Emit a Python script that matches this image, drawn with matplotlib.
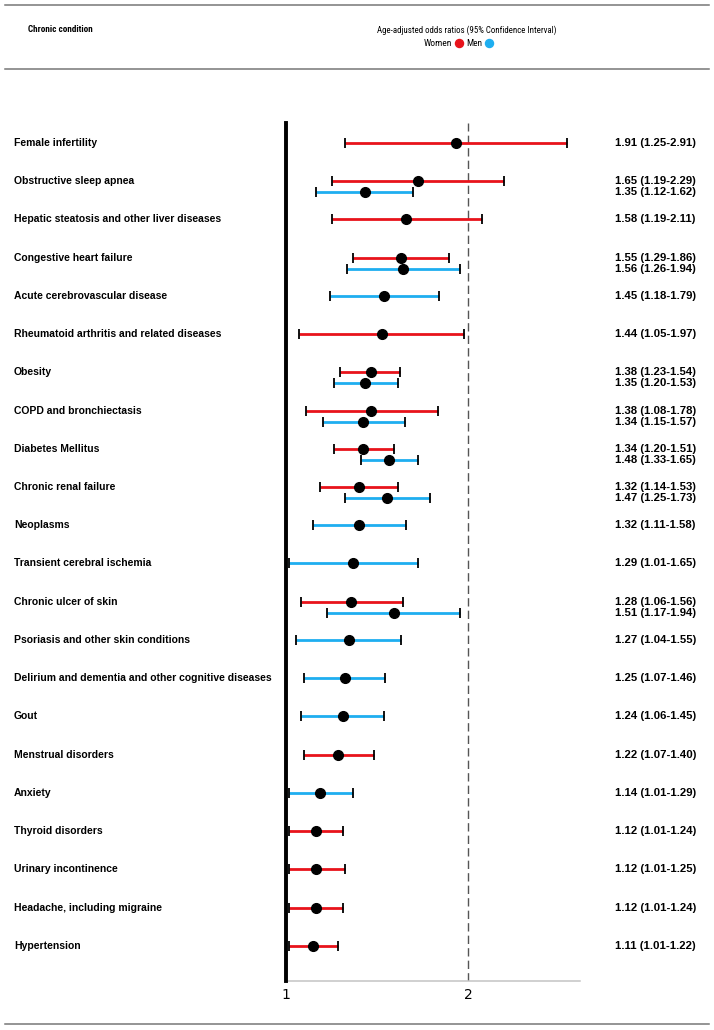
import numpy as np
import matplotlib
matplotlib.use("Agg")
import matplotlib.pyplot as plt
from matplotlib import font_manager
from matplotlib.lines import Line2D
from matplotlib.transforms import blended_transform_factory

nan = np.nan

conditions = [
    "Female infertility",
    "Obstructive sleep apnea",
    "Hepatic steatosis and other liver diseases",
    "Congestive heart failure",
    "Acute cerebrovascular disease",
    "Rheumatoid arthritis and related diseases",
    "Obesity",
    "COPD and bronchiectasis",
    "Diabetes Mellitus",
    "Chronic renal failure",
    "Neoplasms",
    "Transient cerebral ischemia",
    "Chronic ulcer of skin",
    "Psoriasis and other skin conditions",
    "Delirium and dementia and other cognitive diseases",
    "Gout",
    "Menstrual disorders",
    "Anxiety",
    "Thyroid disorders",
    "Urinary incontinence",
    "Headache, including migraine",
    "Hypertension",
]

women_or = [1.91, 1.65, 1.58, 1.55, nan, 1.44, 1.38, 1.38, 1.34, 1.32, nan, nan,
            1.28, nan, nan, nan, 1.22, nan, 1.12, 1.12, 1.12, 1.11]
women_lo = [1.25, 1.19, 1.19, 1.29, nan, 1.05, 1.23, 1.08, 1.20, 1.14, nan, nan,
            1.06, nan, nan, nan, 1.07, nan, 1.01, 1.01, 1.01, 1.01]
women_hi = [2.91, 2.29, 2.11, 1.86, nan, 1.97, 1.54, 1.78, 1.51, 1.53, nan, nan,
            1.56, nan, nan, nan, 1.40, nan, 1.24, 1.25, 1.24, 1.22]

men_or = [nan, 1.35, nan, 1.56, 1.45, nan, 1.35, 1.34, 1.48, 1.47, 1.32, 1.29,
          1.51, 1.27, 1.25, 1.24, nan, 1.14, nan, nan, nan, nan]
men_lo = [nan, 1.12, nan, 1.26, 1.18, nan, 1.20, 1.15, 1.33, 1.25, 1.11, 1.01,
          1.17, 1.04, 1.07, 1.06, nan, 1.01, nan, nan, nan, nan]
men_hi = [nan, 1.62, nan, 1.94, 1.79, nan, 1.53, 1.57, 1.65, 1.73, 1.58, 1.65,
          1.94, 1.55, 1.46, 1.45, nan, 1.29, nan, nan, nan, nan]

W, H = 714, 1030
red = "#e8131b"
blue = "#1eaef0"

# header font is a condensed one; use one if installed
names = {f.name for f in font_manager.fontManager.ttflist}
narrow = "Roboto"
for cand in ["Liberation Sans Narrow", "Roboto Condensed", "Open Sans Condensed"]:
    if cand in names:
        narrow = cand
        break

fig = plt.figure(figsize=(W / 100, H / 100), dpi=100)
ax = fig.add_axes([286 / W, 1 - 981 / H, (580 - 286) / W, (981 - 123) / H])

n = len(conditions)
rows = np.arange(n)
has_w = ~np.isnan(women_or)
y_w = rows.astype(float)
y_m = np.where(has_w, rows + 0.29, rows)


def draw(y, est, lo, hi, col):
    est, lo, hi = np.array(est), np.array(lo), np.array(hi)
    ok = ~np.isnan(est)
    ax.hlines(y[ok], lo[ok], hi[ok], color=col, lw=2.0, zorder=2)
    ax.plot(lo[ok], y[ok], ls="none", marker="|", ms=7.5, mew=1.3, color="black", zorder=3)
    ax.plot(hi[ok], y[ok], ls="none", marker="|", ms=7.5, mew=1.3, color="black", zorder=3)
    ax.plot(est[ok], y[ok], ls="none", marker="o", ms=7, color="black", zorder=4)


draw(y_w, women_or, women_lo, women_hi, red)
draw(y_m, men_or, men_lo, men_hi, blue)

ax.axvline(2, color="#555555", lw=1, ls=(0, (6, 3)), zorder=1)

ax.set_xscale("log")
ax.set_xlim(1, 3.06)
ax.set_ylim(n - 1 + 0.92, -0.52)
ax.set_xticks([1, 2])
ax.set_xticklabels(["1", "2"], fontsize=10, family="DejaVu Sans")
ax.xaxis.set_minor_locator(matplotlib.ticker.NullLocator())
ax.tick_params(axis="x", length=0, pad=5)
ax.set_yticks([])
for s in ["top", "right"]:
    ax.spines[s].set_visible(False)
ax.spines["left"].set_linewidth(2.8)
ax.spines["left"].set_color("black")
ax.spines["left"].set_zorder(5)
ax.spines["bottom"].set_color("#c4c4c4")
ax.spines["bottom"].set_linewidth(1.1)

tr = blended_transform_factory(fig.transFigure, ax.transData)
lab_font = dict(family="Liberation Sans", weight="bold", fontsize=7.5)
num_font = dict(family="Liberation Sans", weight="bold", fontsize=8.2)
for i, c in enumerate(conditions):
    ax.text(14 / W, i, c, transform=tr, ha="left", va="center", **lab_font)
    if has_w[i]:
        ax.text(615 / W, y_w[i], "%.2f (%.2f-%.2f)" % (women_or[i], women_lo[i], women_hi[i]),
                transform=tr, ha="left", va="center", **num_font)
    if not np.isnan(men_or[i]):
        ax.text(615 / W, y_m[i], "%.2f (%.2f-%.2f)" % (men_or[i], men_lo[i], men_hi[i]),
                transform=tr, ha="left", va="center", **num_font)

# header
for yy in [5, 69, 1024]:
    fig.add_artist(Line2D([5 / W, 709 / W], [1 - yy / H, 1 - yy / H], color="#777777", lw=1.1))

renderer = fig.canvas.get_renderer()


def fit(t, width_px):
    # shrink/grow the font so the text is as wide as in the reference
    w = t.get_window_extent(renderer).width
    t.set_fontsize(t.get_fontsize() * width_px / w)


t1 = fig.text(28 / W, 1 - 30 / H, "Chronic condition", ha="left", va="center",
              family=narrow, weight="bold", fontsize=7.2)
fit(t1, 65)
t2 = fig.text(467 / W, 1 - 30 / H, "Age-adjusted odds ratios (95% Confidence Interval)",
              ha="center", va="center", family=narrow, fontsize=7.2)
fit(t2, 180)
t3 = fig.text(452 / W, 1 - 43 / H, "Women", ha="right", va="center", family=narrow, fontsize=7.2)
fit(t3, 28)
t4 = fig.text(466 / W, 1 - 43 / H, "Men", ha="left", va="center", family=narrow, fontsize=7.2)
fit(t4, 16)
fig.add_artist(Line2D([459 / W], [1 - 43 / H], marker="o", ms=5.8, color=red, ls="none"))
fig.add_artist(Line2D([489 / W], [1 - 43 / H], marker="o", ms=5.8, color=blue, ls="none"))

fig.savefig("out.png", dpi=100)
